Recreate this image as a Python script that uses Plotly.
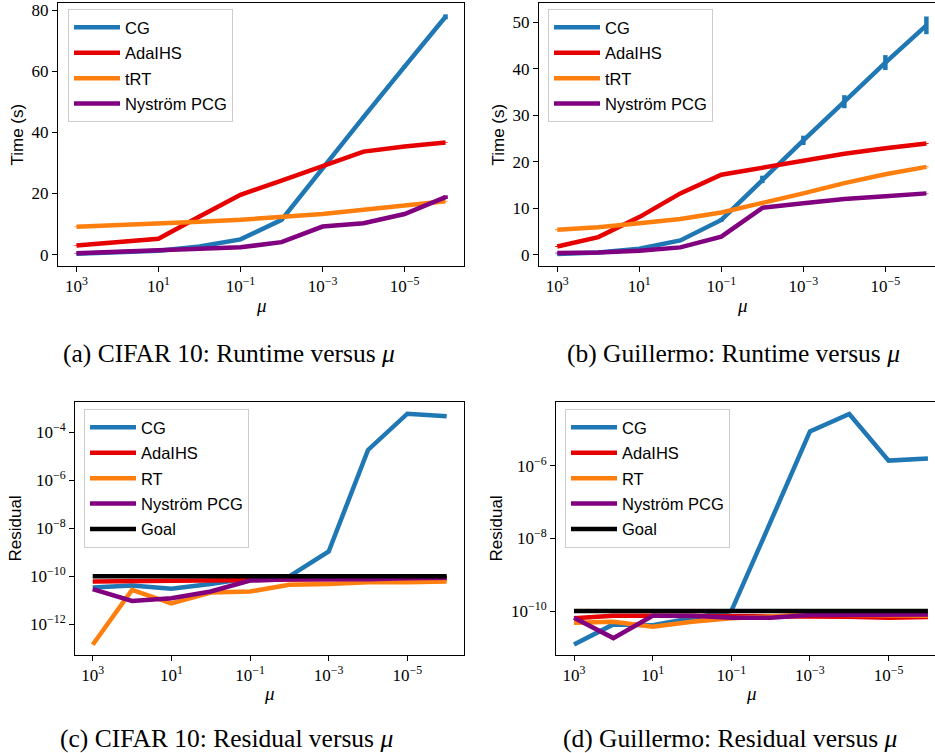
import plotly.graph_objects as go

# ---------------- data ----------------
mu = [1e3, 1e2, 1e1, 1e0, 1e-1, 1e-2, 1e-3, 1e-4, 1e-5, 1e-6]

# (a) CIFAR 10 runtime (s)
a_cg = [0.3, 0.9, 1.3, 2.7, 5.0, 11.4, 28.3, 45.0, 61.5, 77.8]
a_cg_err = [0.05, 0.05, 0.05, 0.1, 0.1, 0.2, 0.3, 0.4, 0.5, 0.8]
a_ada = [3.0, 4.1, 5.2, 12.5, 19.6, 24.2, 28.8, 33.7, 35.4, 36.7]
a_ada_err = [0.1] * 10
a_trt = [9.1, 9.6, 10.0, 10.8, 11.4, 12.2, 13.3, 14.7, 16.0, 17.5]
a_trt_err = [0.1] * 10
a_nys = [0.5, 0.9, 1.3, 1.7, 2.4, 4.1, 9.2, 10.3, 13.3, 18.8]
a_nys_err = [0.05, 0.05, 0.05, 0.05, 0.1, 0.1, 0.2, 0.2, 0.3, 0.6]

# (b) Guillermo runtime (s)
b_cg = [0.2, 0.5, 1.3, 3.1, 7.5, 16.2, 24.6, 32.9, 41.3, 49.3]
b_cg_err = [0.05, 0.05, 0.1, 0.2, 0.4, 0.8, 1.0, 1.4, 1.6, 1.9]
b_ada = [1.8, 3.8, 8.1, 13.2, 17.2, 18.7, 20.2, 21.7, 22.9, 23.9]
b_ada_err = [0.1] * 10
b_trt = [5.4, 5.9, 6.8, 7.7, 9.1, 11.1, 13.2, 15.4, 17.3, 18.9]
b_trt_err = [0.1] * 10
b_nys = [0.4, 0.5, 0.9, 1.6, 3.9, 10.1, 11.1, 12.0, 12.6, 13.2]
b_nys_err = [0.05] * 10

# (c) CIFAR 10 residual
c_cg = [3.4e-11, 4.1e-11, 3.0e-11, 4.7e-11, 8.3e-11, 9.8e-11, 1.07e-9, 1.8e-5, 5.8e-4, 4.5e-4]
c_ada = [6.0e-11, 6.3e-11, 6.6e-11, 7.0e-11, 7.4e-11, 7.4e-11, 7.6e-11, 7.8e-11, 7.9e-11, 8.0e-11]
c_rt = [1.4e-13, 2.7e-11, 7.4e-12, 2.1e-11, 2.3e-11, 4.4e-11, 4.7e-11, 5.6e-11, 5.6e-11, 6.0e-11]
c_nys = [2.9e-11, 9.3e-12, 1.2e-11, 2.3e-11, 6.6e-11, 7.4e-11, 7.4e-11, 7.4e-11, 8.3e-11, 8.7e-11]

# (d) Guillermo residual
d_cg = [1.2e-11, 4.3e-11, 4.1e-11, 6.6e-11, 1.0e-10, 2.9e-8, 8.9e-6, 2.7e-5, 1.4e-6, 1.6e-6]
d_ada = [6.3e-11, 7.4e-11, 7.4e-11, 7.4e-11, 7.4e-11, 7.4e-11, 7.4e-11, 7.0e-11, 6.6e-11, 6.9e-11]
d_rt = [4.8e-11, 5.1e-11, 3.7e-11, 5.1e-11, 6.3e-11, 6.9e-11, 8.1e-11, 7.8e-11, 7.8e-11, 7.4e-11]
d_nys = [6.6e-11, 1.8e-11, 7.4e-11, 7.4e-11, 6.6e-11, 6.6e-11, 7.8e-11, 7.8e-11, 8.1e-11, 8.1e-11]

goal = [1e-10] * 10

x_tickvals = [1e3, 1e1, 1e-1, 1e-3, 1e-5]
x_ticktext = ["10<sup>3</sup>", "10<sup>1</sup>", "10<sup>−1</sup>", "10<sup>−3</sup>", "10<sup>−5</sup>"]
a_yticks = [0, 20, 40, 60, 80]
b_yticks = [0, 10, 20, 30, 40, 50]
c_yticks = [1e-12, 1e-10, 1e-8, 1e-6, 1e-4]
c_yticktext = ["10<sup>−12</sup>", "10<sup>−10</sup>", "10<sup>−8</sup>", "10<sup>−6</sup>", "10<sup>−4</sup>"]
d_yticks = [1e-10, 1e-8, 1e-6]
d_yticktext = ["10<sup>−10</sup>", "10<sup>−8</sup>", "10<sup>−6</sup>"]

captions = ["(a) CIFAR 10: Runtime versus <i>μ</i>", "(b) Guillermo: Runtime versus <i>μ</i>",
            "(c) CIFAR 10: Residual versus <i>μ</i>", "(d) Guillermo: Residual versus <i>μ</i>"]

# ---------------- style ----------------
W, H = 935, 753
BLUE, RED, ORANGE, PURPLE, BLACK = "#1f77b4", "#e60000", "#ff7f0e", "#800080", "#000000"
LW = 4.5
SERIF = "Liberation Serif"
SANS = "Liberation Sans"

def px_x(p):
    return p / W

def px_y(p):
    return 1 - p / H

fig = go.Figure()

def add(x, y, name, color, xa, ya, legend, group, err=None):
    kw = {}
    if err is not None:
        kw["error_y"] = dict(type="data", array=err, thickness=LW, width=0, color=color)
    fig.add_trace(go.Scatter(x=x, y=y, name=name, mode="lines",
                             line=dict(color=color, width=LW),
                             xaxis=xa, yaxis=ya, legend=legend,
                             legendgroup=group, showlegend=True, **kw))

# panel a
add(mu, a_cg, "CG", BLUE, "x", "y", "legend", "a1", a_cg_err)
add(mu, a_ada, "AdaIHS", RED, "x", "y", "legend", "a2", a_ada_err)
add(mu, a_trt, "tRT", ORANGE, "x", "y", "legend", "a3", a_trt_err)
add(mu, a_nys, "Nyström PCG", PURPLE, "x", "y", "legend", "a4", a_nys_err)
# panel b
add(mu, b_cg, "CG", BLUE, "x2", "y2", "legend2", "b1", b_cg_err)
add(mu, b_ada, "AdaIHS", RED, "x2", "y2", "legend2", "b2", b_ada_err)
add(mu, b_trt, "tRT", ORANGE, "x2", "y2", "legend2", "b3", b_trt_err)
add(mu, b_nys, "Nyström PCG", PURPLE, "x2", "y2", "legend2", "b4", b_nys_err)
# panel c
add(mu, c_cg, "CG", BLUE, "x3", "y3", "legend3", "c1")
add(mu, c_ada, "AdaIHS", RED, "x3", "y3", "legend3", "c2")
add(mu, c_rt, "RT", ORANGE, "x3", "y3", "legend3", "c3")
add(mu, c_nys, "Nyström PCG", PURPLE, "x3", "y3", "legend3", "c4")
add(mu, goal, "Goal", BLACK, "x3", "y3", "legend3", "c5")
# panel d
add(mu, d_cg, "CG", BLUE, "x4", "y4", "legend4", "d1")
add(mu, d_ada, "AdaIHS", RED, "x4", "y4", "legend4", "d2")
add(mu, d_rt, "RT", ORANGE, "x4", "y4", "legend4", "d3")
add(mu, d_nys, "Nyström PCG", PURPLE, "x4", "y4", "legend4", "d4")
add(mu, goal, "Goal", BLACK, "x4", "y4", "legend4", "d5")

tickfont = dict(family=SERIF, size=17, color="black")

def xaxis(domain, rng, anchor):
    return dict(domain=domain, type="log", range=rng, anchor=anchor,
                tickvals=x_tickvals, ticktext=x_ticktext, tickfont=tickfont,
                ticks="outside", ticklen=5, tickwidth=1, tickcolor="black",
                showline=True, linecolor="black", linewidth=1, mirror=True,
                showgrid=False, zeroline=False, automargin=False)

def yaxis(domain, rng, anchor, tickvals, ticktext=None, log=False, mirror=True):
    d = dict(domain=domain, range=rng, anchor=anchor, tickvals=tickvals, tickfont=tickfont,
             ticks="outside", ticklen=5, tickwidth=1, tickcolor="black",
             showline=True, linecolor="black", linewidth=1, mirror=mirror,
             showgrid=False, zeroline=False, automargin=False)
    if log:
        d["type"] = "log"
    if ticktext is not None:
        d["ticktext"] = ticktext
    return d

top_dom = [px_y(266), px_y(3)]
bot_dom = [px_y(655), px_y(402)]

legend_style = dict(font=dict(family=SANS, size=16.5, color="black"),
                    bgcolor="rgba(255,255,255,0.85)", bordercolor="#cccccc", borderwidth=1,
                    xanchor="left", yanchor="top", tracegroupgap=1, traceorder="grouped",
                    itemwidth=46)

fig.update_layout(
    width=W, height=H, margin=dict(l=0, r=0, t=0, b=0),
    paper_bgcolor="white", plot_bgcolor="white",
    xaxis=xaxis([px_x(58), px_x(464)], [3.45, -6.45], "y"),
    yaxis=yaxis(top_dom, [-3.7, 82.3], "x", a_yticks),
    xaxis2=xaxis([px_x(539), 1.0], [3.446, -6.21], "y2"),
    yaxis2=yaxis(top_dom, [-2.4, 54.1], "x2", b_yticks, mirror=False),
    xaxis3=xaxis([px_x(75), px_x(464)], [3.45, -6.44], "y3"),
    yaxis3=yaxis(bot_dom, [-13.28, -2.75], "x3", c_yticks, c_yticktext, log=True),
    xaxis4=xaxis([px_x(556), 1.0], [3.458, -6.18], "y4"),
    yaxis4=yaxis(bot_dom, [-11.21, -4.24], "x4", d_yticks, d_yticktext, log=True, mirror=False),
    legend=dict(x=px_x(68), y=px_y(9), **legend_style),
    legend2=dict(x=px_x(548), y=px_y(9), **legend_style),
    legend3=dict(x=px_x(84), y=px_y(409), **legend_style),
    legend4=dict(x=px_x(565), y=px_y(409), **legend_style),
)

ann = []
# y-axis titles
for text, xc, yc in [("Time (s)", 17, 134.5), ("Time (s)", 498, 134.5),
                     ("Residual", 15, 528.5), ("Residual", 496, 528.5)]:
    ann.append(dict(text=text, x=px_x(xc), y=px_y(yc), xref="paper", yref="paper",
                    showarrow=False, textangle=-90, xanchor="center", yanchor="middle",
                    font=dict(family=SANS, size=17, color="black")))
# x-axis titles
for xc, yc in [(261, 305), (742, 305), (269, 693), (751, 693)]:
    ann.append(dict(text="<i>μ</i>", x=px_x(xc), y=px_y(yc), xref="paper", yref="paper",
                    showarrow=False, xanchor="center", yanchor="middle",
                    font=dict(family=SERIF, size=19, color="black")))
# captions
for text, xc, yc in zip(captions, [229, 733, 226, 730], [353, 353, 738, 738]):
    ann.append(dict(text=text, x=px_x(xc), y=px_y(yc), xref="paper", yref="paper",
                    showarrow=False, xanchor="center", yanchor="middle",
                    font=dict(family=SERIF, size=25.5, color="black")))
fig.update_layout(annotations=ann)

fig.write_html("out.html", config={"displayModeBar": False},
               post_script="document.body.style.margin='0';document.body.style.overflow='hidden';")
